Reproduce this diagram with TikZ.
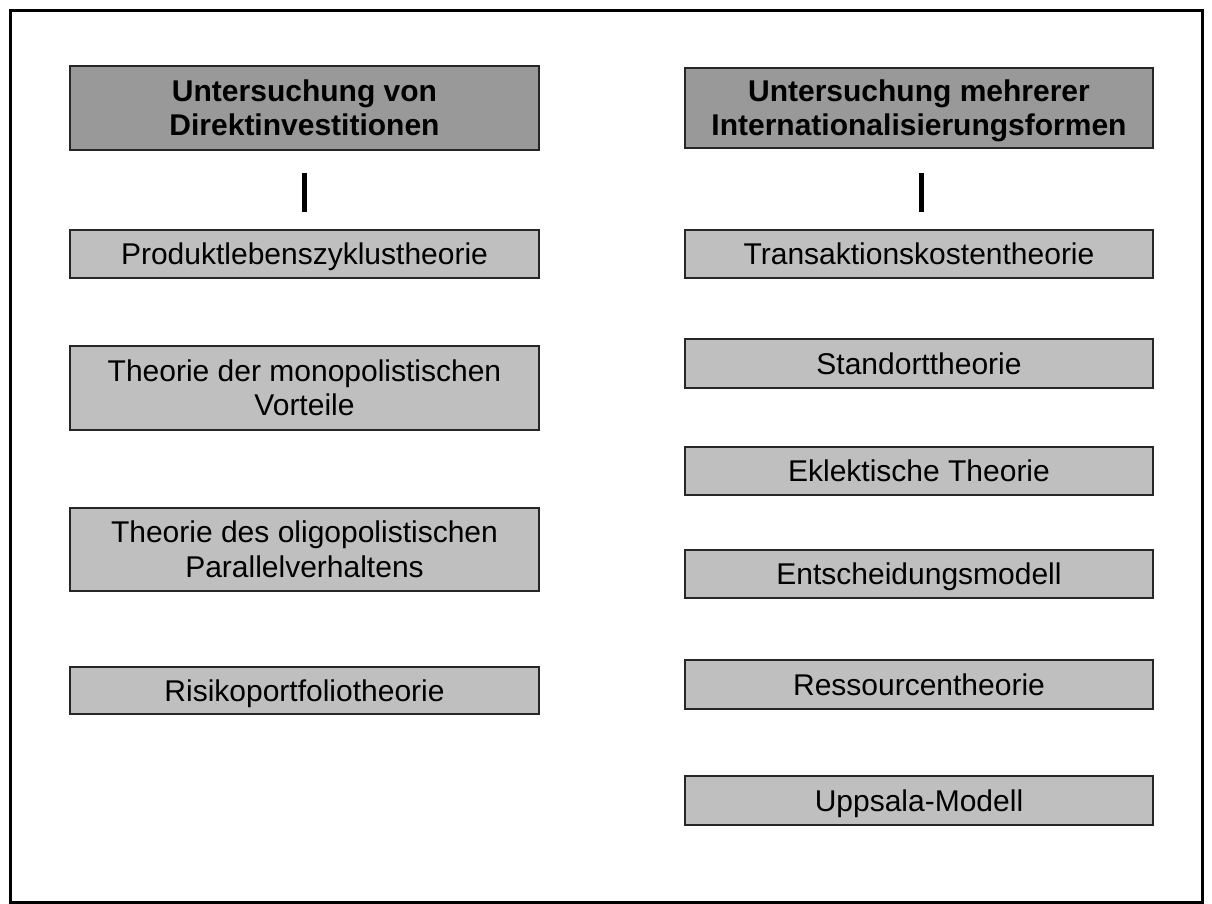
\documentclass[tikz,border=0pt]{standalone}
\usepackage{fontspec}
\setmainfont{Liberation Sans}
\begin{document}
\begin{tikzpicture}[x=0.5pt,y=-0.5pt,
  every node/.style={font=\fontsize{15}{17.25}\selectfont, text=black},
  frameline/.style={line width=1.5pt, draw=black},
  basebox/.style={draw=black!85, line width=1pt, inner sep=0pt, align=center},
  headbox/.style={basebox, fill=black!40, font=\fontsize{15}{17.25}\selectfont\bfseries,
                  text height=27.95pt, text depth=0pt},
  itembox/.style={basebox, fill=black!25, text height=10.7pt, text depth=0pt},
  itembox2/.style={basebox, fill=black!25, text height=27.95pt, text depth=0pt},
  leftcol/.style={minimum width=234.5pt},
  rightcol/.style={minimum width=234pt},
  bar/.style={line width=2.5pt, draw=black, line cap=butt}
]
\useasboundingbox (0,0) rectangle (1212,904);
\draw[frameline] (10.5,10.5) rectangle (1202,902.5);

% left column: studies of direct investment
\node[headbox, leftcol, minimum height=42pt] (lhead) at (304.5,108)
  {Untersuchung von\\Direktinvestitionen};
\node[itembox, leftcol, minimum height=24pt] (plz) at (304.5,254)
  {Produktlebenszyklustheorie};
\node[itembox2, leftcol, minimum height=42pt] (mono) at (304.5,388)
  {Theorie der monopolistischen\\Vorteile};
\node[itembox2, leftcol, minimum height=41.5pt] (oligo) at (304.5,549.5)
  {Theorie des oligopolistischen\\Parallelverhaltens};
\node[itembox, leftcol, minimum height=23.5pt] (risk) at (304.5,690.5)
  {Risikoportfoliotheorie};

% right column: studies of several forms of internationalisation
\node[headbox, rightcol, minimum height=40pt] (rhead) at (919,108)
  {Untersuchung mehrerer\\Internationalisierungsformen};
\node[itembox, rightcol, minimum height=24pt] (tak) at (919,254)
  {Transaktionskostentheorie};
\node[itembox, rightcol, minimum height=24.5pt] (stand) at (919,363.5)
  {Standorttheorie};
\node[itembox, rightcol, minimum height=24pt] (ekl) at (919,471)
  {Eklektische Theorie};
\node[itembox, rightcol, minimum height=24pt] (ent) at (919,574)
  {Entscheidungsmodell};
\node[itembox, rightcol, minimum height=24.5pt] (res) at (919,684.5)
  {Ressourcentheorie};
\node[itembox, rightcol, minimum height=24.5pt] (upp) at (919,800.5)
  {Uppsala-Modell};

% short connecting bars below the headings
\draw[bar, shorten <=11pt, shorten >=8.5pt] (lhead.south) -- (plz.north);
\draw[bar, shorten <=12pt, shorten >=8.5pt]
  ([xshift=1.25pt]rhead.south) -- ([xshift=1.25pt]tak.north);
\end{tikzpicture}
\end{document}
